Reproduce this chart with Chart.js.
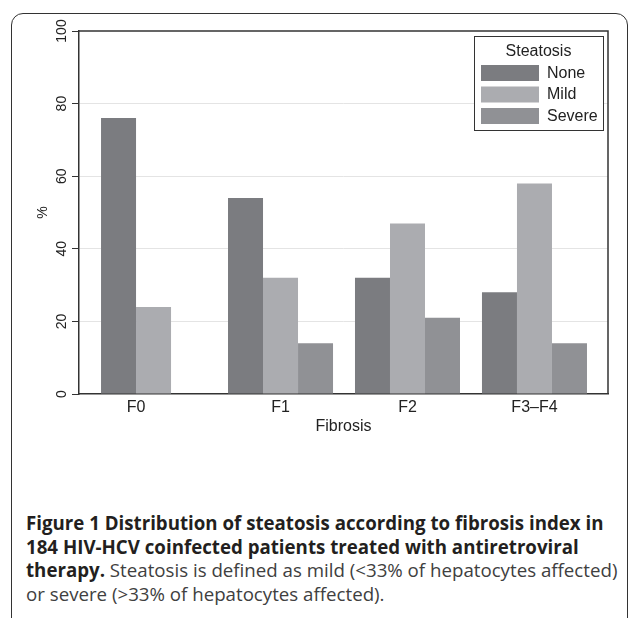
<!DOCTYPE html>
<html>
<head>
<meta charset="utf-8">
<script src="https://cdn.jsdelivr.net/npm/chart.js@4"></script>
<style>
    body { margin: 0; background: #fff; width: 628px; height: 618px; overflow: hidden; position: relative; }
    #frame {
        position: absolute; left: 11px; top: 13px; width: 615px; height: 700px;
        border: 1.5px solid #333; border-radius: 12px 12px 0 0;
    }
    #chart { position: absolute; left: 0; top: 0; }
    #caption {
        position: absolute; left: 26px; top: 511px; width: 600px;
        font-family: "Open Sans", "Noto Sans", sans-serif; font-size: 18.7px; line-height: 23.7px;
        color: #404040; white-space: nowrap;
    }
    #caption b { color: #231f20; }
</style>
</head>
<body>
<div id="frame"></div>
<canvas id="chart" width="628" height="460"></canvas>
<div id="caption">
    <b>Figure 1 Distribution of steatosis according to fibrosis index in</b><br>
    <b>184 HIV-HCV coinfected patients treated with antiretroviral</b><br>
    <b>therapy.</b> Steatosis is defined as mild (&lt;33% of hepatocytes affected)<br>
    or severe (&gt;33% of hepatocytes affected).
</div>
<script>
// Données
const categories = ["F0", "F1", "F2", "F3\u2013F4"];
const seriesNames = ["None", "Mild", "Severe"];
const noneValues = [76, 54, 32, 28];
const mildValues = [24, 32, 47, 58];
const severeValues = [null, 14, 21, 14];
const yTicks = [0, 20, 40, 60, 80, 100];

const colors = ["#7b7c80", "#abacb0", "#909195"];
const catPct = 0.827;
const FONT = "'Liberation Sans', Arial, sans-serif";

Chart.defaults.font.family = FONT;
Chart.defaults.font.size = 16;
Chart.defaults.color = "#222";

const allSeries = [noneValues, mildValues, severeValues];

// position of a category label: centre of the bars that are present
function labelPos(i) {
    const slot = catPct / allSeries.length;
    const present = [];
    allSeries.forEach((s, k) => { if (s[i] !== null) present.push(k); });
    const mid = present.reduce((a, b) => a + b, 0) / present.length;
    return i + (mid - (allSeries.length - 1) / 2) * slot;
}

// cadre du graphique (haut + droite)
const framePlugin = {
    id: "framePlugin",
    afterDraw(chart) {
        const { ctx, chartArea: a } = chart;
        ctx.save();
        ctx.strokeStyle = "#333";
        ctx.lineWidth = 1.5;
        ctx.beginPath();
        ctx.moveTo(a.left, a.top);
        ctx.lineTo(a.right, a.top);
        ctx.lineTo(a.right, a.bottom);
        ctx.stroke();
        ctx.restore();
    }
};

// légende dans la zone du graphique
const legendPlugin = {
    id: "legendPlugin",
    afterDraw(chart) {
        const { ctx, chartArea: a } = chart;
        const w = 129, h = 94;
        const x = a.right - 5 - w, y = a.top + 5;
        ctx.save();
        ctx.fillStyle = "#fff";
        ctx.fillRect(x, y, w, h);
        ctx.strokeStyle = "#333";
        ctx.lineWidth = 1;
        ctx.strokeRect(x + 0.5, y + 0.5, w, h);
        ctx.fillStyle = "#222";
        ctx.font = "16px " + FONT;
        ctx.textAlign = "center";
        ctx.textBaseline = "middle";
        ctx.fillText("Steatosis", x + w / 2, y + 16);
        ctx.textAlign = "left";
        chart.data.datasets.forEach((ds, k) => {
            const ry = y + 29 + k * 21.5;
            ctx.fillStyle = ds.backgroundColor;
            ctx.fillRect(x + 7, ry, 58, 16);
            ctx.fillStyle = "#222";
            ctx.fillText(ds.label, x + 73, ry + 8.5);
        });
        ctx.restore();
    }
};

const datasets = allSeries.map((s, k) => ({
    label: seriesNames[k],
    data: s.map((v, i) => ({ x: i, y: v })),
    backgroundColor: colors[k],
    borderWidth: 0,
    categoryPercentage: catPct,
    barPercentage: 1.0
}));

new Chart(document.getElementById("chart"), {
    type: "bar",
    data: { datasets },
    plugins: [framePlugin, legendPlugin],
    options: {
        responsive: false,
        animation: false,
        layout: { padding: { left: 30, top: 31, right: 20, bottom: 0 } },
        plugins: { legend: { display: false }, tooltip: { enabled: false } },
        scales: {
            x: {
                type: "linear",
                offset: false,
                min: -0.587,
                max: 3.579,
                grid: { display: false },
                border: { display: true, color: "#333", width: 1.5 },
                afterBuildTicks(scale) {
                    scale.ticks = categories.map((c, i) => ({ value: labelPos(i) }));
                },
                afterFit(scale) { scale.height = 66; },
                ticks: {
                    padding: -4,
                    color: "#222",
                    autoSkip: false,
                    maxRotation: 0,
                    font: { size: 16 },
                    callback: (v, idx) => categories[idx]
                },
                title: { display: true, text: "Fibrosis", color: "#222", font: { size: 16 }, padding: { top: 0, bottom: 24 } }
            },
            y: {
                min: 0,
                max: 100,
                afterBuildTicks(scale) {
                    scale.ticks = yTicks.map(v => ({ value: v }));
                },
                afterFit(scale) { scale.width = 49; },
                grid: {
                    color: ctx => (ctx.tick && (ctx.tick.value === 0 || ctx.tick.value === 100)) ? "rgba(0,0,0,0)" : "#e4e4e4",
                    tickColor: "#333",
                    tickLength: 7,
                    lineWidth: 1
                },
                border: { display: true, color: "#333", width: 1.5 },
                ticks: {
                    minRotation: 90,
                    maxRotation: 90,
                    crossAlign: "center",
                    padding: -2,
                    font: { size: 14 },
                    color: "#222"
                },
                title: { display: true, text: "%", color: "#222", font: { size: 14 }, padding: { top: 5, bottom: 0 } }
            }
        }
    }
});
</script>
</body>
</html>
